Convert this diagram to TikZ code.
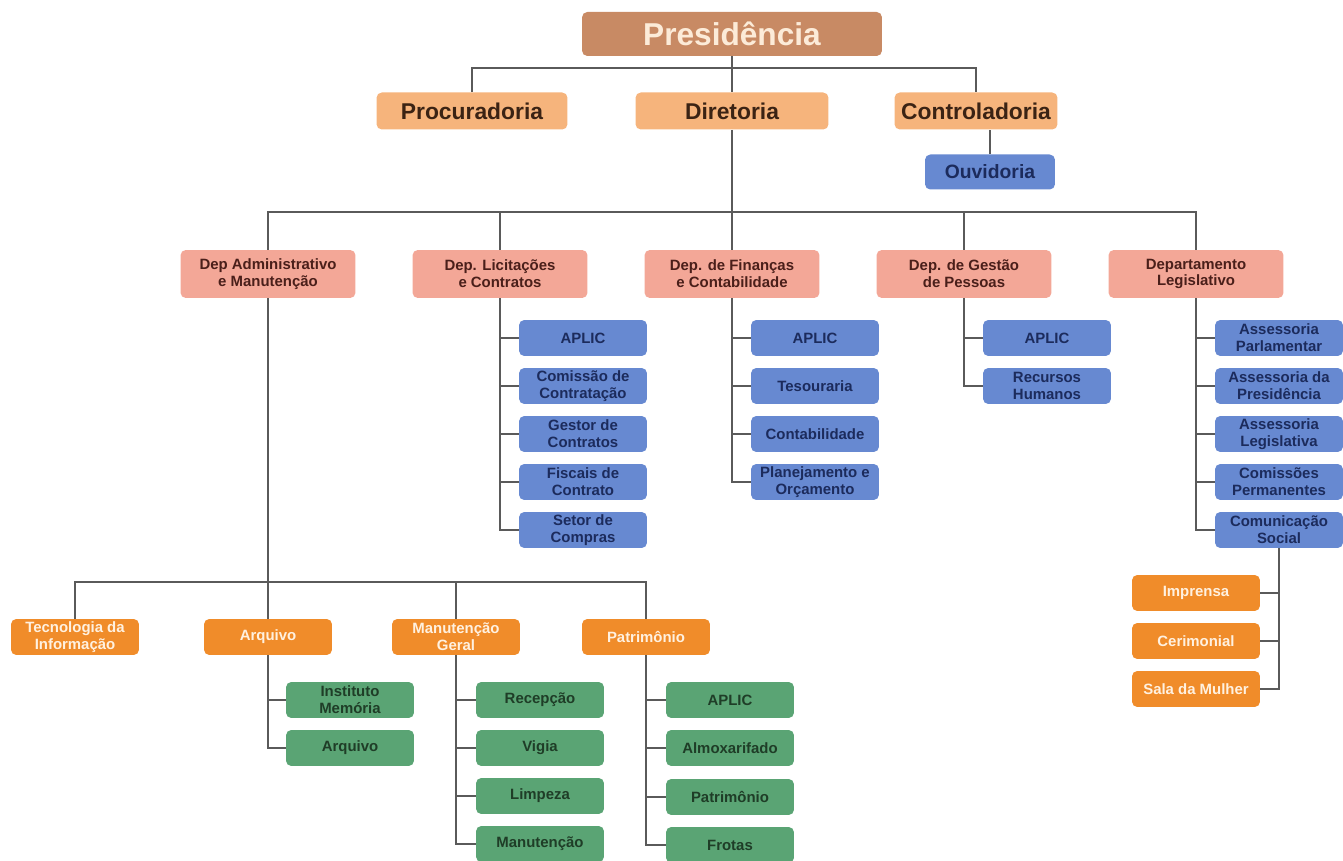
\documentclass[tikz,border=0pt]{standalone}
\usepackage{fontspec}
\setmainfont{Liberation Sans}
\usetikzlibrary{positioning}
\definecolor{presfill}{HTML}{C88A64}
\definecolor{prestext}{HTML}{FCEBD8}
\definecolor{headfill}{HTML}{F6B47C}
\definecolor{headtext}{HTML}{3B2314}
\definecolor{depfill}{HTML}{F3A797}
\definecolor{deptext}{HTML}{4A1F1A}
\definecolor{subfill}{HTML}{6789D1}
\definecolor{subtext}{HTML}{1C2B5C}
\definecolor{officefill}{HTML}{F08C2A}
\definecolor{officetext}{HTML}{FFF1E0}
\definecolor{secfill}{HTML}{5AA474}
\definecolor{sectext}{HTML}{1F3D27}
\definecolor{linecol}{HTML}{5A5A5A}

\begin{document}
\begin{tikzpicture}[
  x=0.02cm, y=-0.02cm,
  every node/.style={rounded corners=3pt, align=center, inner sep=1pt,
    font=\bfseries\fontsize{8.5}{9.6}\selectfont},
  presbox/.style={fill=presfill, text=prestext, minimum width=6cm, minimum height=0.88cm,
    font=\bfseries\fontsize{18}{20}\selectfont},
  headbox/.style={fill=headfill, text=headtext, minimum height=0.74cm,
    font=\bfseries\fontsize{13}{15}\selectfont},
  depbox/.style={fill=depfill, text=deptext, minimum width=3.5cm, minimum height=0.96cm},
  subbox/.style={fill=subfill, text=subtext, minimum width=2.56cm, minimum height=0.72cm},
  officebox/.style={fill=officefill, text=officetext, minimum width=2.56cm, minimum height=0.72cm},
  secbox/.style={fill=secfill, text=sectext, minimum width=2.56cm, minimum height=0.72cm},
  link/.style={draw=linecol, line width=0.8pt}
]
\useasboundingbox (0,0) rectangle (1343,861);

\node[presbox] (pres) at (732,34) {Presidência};
\node[headbox, minimum width=3.82cm] (proc) at (472,111) {Procuradoria};
\node[headbox, minimum width=3.86cm] (dir) at (732,111) {Diretoria};
\node[headbox, minimum width=3.26cm] (ctrl) at (976,111) {Controladoria};
\node[subbox, minimum width=2.6cm, minimum height=0.7cm,
  font=\bfseries\fontsize{11}{13}\selectfont] (ouv) at (990,172) {Ouvidoria};

\node[depbox] (adm) at (268,274) {Dep Administrativo\\e Manutenção};
\node[depbox] (lic) at (500,274) {Dep. Licitações\\e Contratos};
\node[depbox] (fin) at (732,274) {Dep. de Finanças\\e Contabilidade};
\node[depbox] (ges) at (964,274) {Dep. de Gestão\\de Pessoas};
\node[depbox] (leg) at (1196,274) {Departamento\\Legislativo};

\node[subbox] (lic1) at (583,338) {APLIC};
\node[subbox] (lic2) at (583,386) {Comissão de\\Contratação};
\node[subbox] (lic3) at (583,434) {Gestor de\\Contratos};
\node[subbox] (lic4) at (583,482) {Fiscais de\\Contrato};
\node[subbox] (lic5) at (583,530) {Setor de\\Compras};

\node[subbox] (fin1) at (815,338) {APLIC};
\node[subbox] (fin2) at (815,386) {Tesouraria};
\node[subbox] (fin3) at (815,434) {Contabilidade};
\node[subbox] (fin4) at (815,482) {Planejamento e\\Orçamento};

\node[subbox] (ges1) at (1047,338) {APLIC};
\node[subbox] (ges2) at (1047,386) {Recursos\\Humanos};

\node[subbox] (leg1) at (1279,338) {Assessoria\\Parlamentar};
\node[subbox] (leg2) at (1279,386) {Assessoria da\\Presidência};
\node[subbox] (leg3) at (1279,434) {Assessoria\\Legislativa};
\node[subbox] (leg4) at (1279,482) {Comissões\\Permanentes};
\node[subbox] (leg5) at (1279,530) {Comunicação\\Social};

\node[officebox] (imp) at (1196,593) {Imprensa};
\node[officebox] (cer) at (1196,641) {Cerimonial};
\node[officebox] (sala) at (1196,689) {Sala da Mulher};

\node[officebox] (ti) at (75,637) {Tecnologia da\\Informação};
\node[officebox] (arq) at (268,637) {Arquivo};
\node[officebox] (man) at (456,637) {Manutenção\\Geral};
\node[officebox] (pat) at (646,637) {Patrimônio};

\node[secbox] (arq1) at (350,700) {Instituto\\Memória};
\node[secbox] (arq2) at (350,748) {Arquivo};

\node[secbox] (man1) at (540,700) {Recepção};
\node[secbox] (man2) at (540,748) {Vigia};
\node[secbox] (man3) at (540,796) {Limpeza};
\node[secbox] (man4) at (540,844) {Manutenção};

\node[secbox] (pat1) at (730,700) {APLIC};
\node[secbox] (pat2) at (730,748) {Almoxarifado};
\node[secbox] (pat3) at (730,797) {Patrimônio};
\node[secbox] (pat4) at (730,845) {Frotas};

\coordinate (busA) at (732,68);
\coordinate (busB) at (732,212);
\coordinate (busC) at (268,582);

\draw[link] (pres.south) -- (busA) -- (dir.north);
\draw[link] (proc.north) |- (busA) -| (ctrl.north);
\draw[link] (ouv.north) -- (ouv.north |- ctrl.south);

\draw[link] (dir.south) -- (busB);
\draw[link] (adm.north) |- (busB) -| (leg.north);
\draw[link] (lic.north) -- (lic.north |- busB);
\draw[link] (fin.north) -- (fin.north |- busB);
\draw[link] (ges.north) -- (ges.north |- busB);

\draw[link] (lic.south) |- (lic5.west);
\draw[link] (lic.south |- lic1.west) -- (lic1.west);
\draw[link] (lic.south |- lic2.west) -- (lic2.west);
\draw[link] (lic.south |- lic3.west) -- (lic3.west);
\draw[link] (lic.south |- lic4.west) -- (lic4.west);

\draw[link] (fin.south) |- (fin4.west);
\draw[link] (fin.south |- fin1.west) -- (fin1.west);
\draw[link] (fin.south |- fin2.west) -- (fin2.west);
\draw[link] (fin.south |- fin3.west) -- (fin3.west);

\draw[link] (ges.south) |- (ges2.west);
\draw[link] (ges.south |- ges1.west) -- (ges1.west);

\draw[link] (leg.south) |- (leg5.west);
\draw[link] (leg.south |- leg1.west) -- (leg1.west);
\draw[link] (leg.south |- leg2.west) -- (leg2.west);
\draw[link] (leg.south |- leg3.west) -- (leg3.west);
\draw[link] (leg.south |- leg4.west) -- (leg4.west);

\draw[link] (leg5.south) |- (sala.east);
\draw[link] (leg5.south |- imp.east) -- (imp.east);
\draw[link] (leg5.south |- cer.east) -- (cer.east);

\draw[link] (adm.south) -- (arq.north);
\draw[link] (ti.north) |- (busC) -| (pat.north);
\draw[link] (man.north) -- (man.north |- busC);

\draw[link] (arq.south) |- (arq2.west);
\draw[link] (arq.south |- arq1.west) -- (arq1.west);

\draw[link] (man.south) |- (man4.west);
\draw[link] (man.south |- man1.west) -- (man1.west);
\draw[link] (man.south |- man2.west) -- (man2.west);
\draw[link] (man.south |- man3.west) -- (man3.west);

\draw[link] (pat.south) |- (pat4.west);
\draw[link] (pat.south |- pat1.west) -- (pat1.west);
\draw[link] (pat.south |- pat2.west) -- (pat2.west);
\draw[link] (pat.south |- pat3.west) -- (pat3.west);
\end{tikzpicture}
\end{document}
